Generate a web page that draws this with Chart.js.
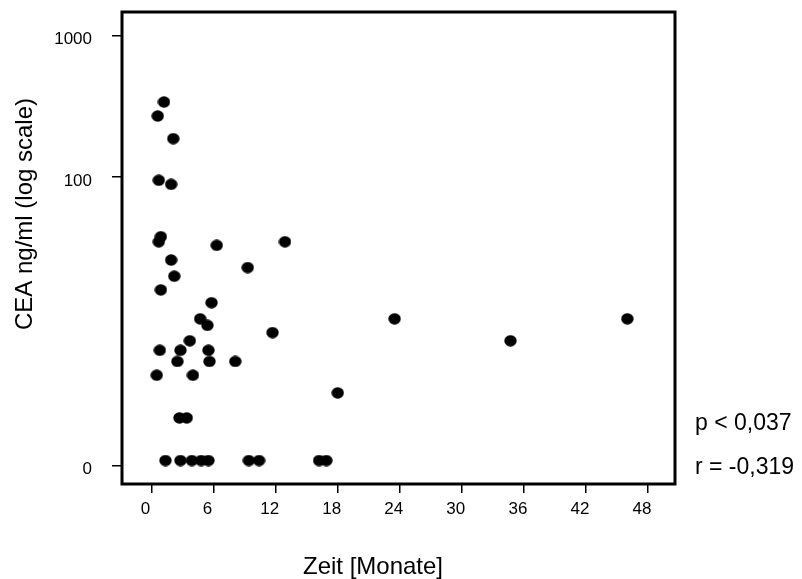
<!DOCTYPE html>
<html>
<head>
<meta charset="utf-8">
<title>CEA und Zeit</title>
<script src="https://cdn.jsdelivr.net/npm/chart.js@4.4.1/dist/chart.umd.min.js"></script>
<style>
  html, body { margin: 0; padding: 0; background: #fff; }
  #wrap { width: 802px; height: 579px; }
</style>
</head>
<body>
<div id="wrap"><canvas id="ceaChart" width="802" height="579"></canvas></div>
<script>
// Zeit bis Rezidiv (Monate) und CEA-Wert (ng/ml)
const months = [1.2, 0.6, 2.1, 0.7, 1.9, 0.9, 0.7, 6.3, 12.9, 1.9, 9.3, 2.2, 0.9, 5.8, 4.7, 5.4,
  11.7, 3.7, 23.5, 34.7, 46.0, 0.8, 2.8, 5.5, 2.5, 5.6, 8.1, 0.5, 4.0, 18.0, 2.7, 3.4];
const ceaValues = [339, 270, 187, 95, 89, 38, 35, 33, 35, 26, 23, 20, 16, 13, 10, 9,
  8, 7, 10, 7, 10, 6, 6, 6, 5, 5, 5, 4, 4, 3, 2, 2];

// Patienten mit CEA = 0, auf der log-Achse bei ZERO_LEVEL gezeichnet
const zeroMonths = [1.35, 2.8, 3.9, 4.8, 5.5, 9.4, 10.4, 16.2, 16.9];
const ZERO_LEVEL = 1;

const xTicks = [0, 6, 12, 18, 24, 30, 36, 42, 48];
const yTickValues = [0.92, 100, 1000];
const yTickLabels = ['0', '100', '1000'];

const xTitle = 'Zeit [Monate]';
const yTitle = 'CEA ng/ml (log scale)';
const stats = ['p < 0,037', 'r = -0,319'];

const FONT = '"Liberation Sans", Arial, Helvetica, sans-serif';

const points = months.map((m, i) => ({ x: m, y: ceaValues[i] }))
  .concat(zeroMonths.map(m => ({ x: m, y: ZERO_LEVEL })));

// slightly flattened black dot
function ellipseDot(w, h) {
  const c = document.createElement('canvas');
  c.width = w;
  c.height = h;
  const g = c.getContext('2d');
  g.fillStyle = '#000';
  g.beginPath();
  g.ellipse(w / 2, h / 2, w / 2 - 0.3, h / 2 - 0.3, 0, 0, Math.PI * 2);
  g.fill();
  return c;
}

// frame around the plot, axis titles and the statistics on the right
const frameAndText = {
  id: 'frameAndText',
  afterDraw(chart) {
    const { ctx, chartArea: a } = chart;
    ctx.save();
    ctx.strokeStyle = '#000';
    ctx.lineWidth = 3;
    ctx.strokeRect(a.left, a.top, a.right - a.left, a.bottom - a.top);

    ctx.fillStyle = '#000';
    ctx.font = '24px ' + FONT;
    ctx.textBaseline = 'alphabetic';
    ctx.textAlign = 'center';
    ctx.fillText(xTitle, 373, 574);

    ctx.save();
    ctx.translate(32, 214);
    ctx.rotate(-Math.PI / 2);
    ctx.fillText(yTitle, 0, 0);
    ctx.restore();

    ctx.font = '23px ' + FONT;
    ctx.textAlign = 'left';
    ctx.fillText(stats[0], 695, 430);
    ctx.fillText(stats[1], 695, 474);
    ctx.restore();
  }
};

const ctx = document.getElementById('ceaChart').getContext('2d');
new Chart(ctx, {
  type: 'scatter',
  data: {
    datasets: [{
      data: points,
      pointStyle: ellipseDot(13, 12),
      pointRadius: 6,
      backgroundColor: '#000',
      borderColor: '#000'
    }]
  },
  options: {
    responsive: false,
    animation: false,
    layout: { padding: { top: 12, right: 127, left: 0, bottom: 0 } },
    plugins: {
      legend: { display: false },
      tooltip: { enabled: false }
    },
    scales: {
      x: {
        type: 'linear',
        min: -2.855,
        max: 50.61,
        afterBuildTicks: scale => { scale.ticks = xTicks.map(v => ({ value: v })); },
        afterFit: scale => {
          scale.height = 95;
          scale.paddingLeft = 0;
          scale.paddingRight = 0;
        },
        border: { display: false },
        grid: { drawOnChartArea: false, drawTicks: true, tickLength: 9, color: '#000', lineWidth: 1.5 },
        ticks: {
          autoSkip: false,
          maxRotation: 0,
          padding: 6,
          labelOffset: -6,
          color: '#000',
          font: { family: FONT, size: 17 },
          callback: v => String(v)
        }
      },
      y: {
        type: 'logarithmic',
        min: 0.683,
        max: 1464,
        afterBuildTicks: scale => { scale.ticks = yTickValues.map(v => ({ value: v })); },
        afterFit: scale => {
          scale.width = 122;
          scale.paddingTop = 0;
          scale.paddingBottom = 0;
        },
        border: { display: false },
        grid: { drawOnChartArea: false, drawTicks: true, tickLength: 10, color: '#000', lineWidth: 1.5 },
        ticks: {
          autoSkip: false,
          padding: 20,
          labelOffset: 4,
          color: '#000',
          font: { family: FONT, size: 17 },
          callback: (v, i) => yTickLabels[i]
        }
      }
    }
  },
  plugins: [frameAndText]
});
</script>
</body>
</html>
